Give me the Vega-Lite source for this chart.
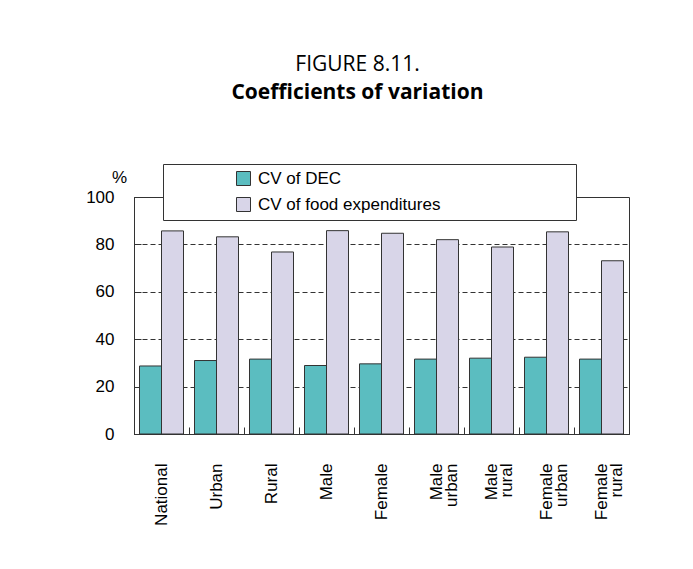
{
  "$schema": "https://vega.github.io/schema/vega-lite/v6.json",
  "width": 495,
  "height": 237,
  "padding": {"left": 85, "top": 53, "right": 5, "bottom": 5},
  "background": "white",
  "title": {
    "text": "FIGURE 8.11.",
    "subtitle": "Coefficients of variation",
    "font": "Open Sans",
    "fontSize": 21,
    "fontWeight": "normal",
    "color": "black",
    "subtitleFont": "Open Sans",
    "subtitleFontSize": 21,
    "subtitleFontWeight": "bold",
    "subtitleColor": "black",
    "subtitlePadding": 7,
    "anchor": "middle",
    "offset": 61,
    "dx": -24
  },
  "data": {
    "values": [
      {"cat": "National", "series": "CV of DEC", "value": 28.7},
      {"cat": "National", "series": "CV of food expenditures", "value": 85.7},
      {"cat": "Urban", "series": "CV of DEC", "value": 31.0},
      {"cat": "Urban", "series": "CV of food expenditures", "value": 83.2},
      {"cat": "Rural", "series": "CV of DEC", "value": 31.6},
      {"cat": "Rural", "series": "CV of food expenditures", "value": 76.8},
      {"cat": "Male", "series": "CV of DEC", "value": 28.9},
      {"cat": "Male", "series": "CV of food expenditures", "value": 85.8},
      {"cat": "Female", "series": "CV of DEC", "value": 29.6},
      {"cat": "Female", "series": "CV of food expenditures", "value": 84.7},
      {"cat": "Male urban", "series": "CV of DEC", "value": 31.6},
      {"cat": "Male urban", "series": "CV of food expenditures", "value": 82.0},
      {"cat": "Male rural", "series": "CV of DEC", "value": 32.0},
      {"cat": "Male rural", "series": "CV of food expenditures", "value": 78.9},
      {"cat": "Female urban", "series": "CV of DEC", "value": 32.4},
      {"cat": "Female urban", "series": "CV of food expenditures", "value": 85.3},
      {"cat": "Female rural", "series": "CV of DEC", "value": 31.6},
      {"cat": "Female rural", "series": "CV of food expenditures", "value": 73.1}
    ]
  },
  "mark": {"type": "bar", "stroke": "#333", "strokeWidth": 1},
  "encoding": {
    "x": {
      "field": "cat",
      "type": "nominal",
      "sort": null,
      "scale": {"paddingInner": 0, "paddingOuter": 0},
      "axis": {
        "title": null,
        "labelAngle": 270,
        "labelAlign": "right",
        "labelBaseline": "middle",
        "labelExpr": "split(datum.label, ' ')",
        "labelLineHeight": 15,
        "labelFont": "Liberation Sans",
        "labelFontSize": 17,
        "labelColor": "black",
        "labelPadding": 36,
        "tickSize": -7,
        "tickBand": "extent",
        "tickColor": "#333",
        "domainColor": "#333",
        "grid": false
      }
    },
    "xOffset": {
      "field": "series",
      "type": "nominal",
      "scale": {"paddingInner": 0, "paddingOuter": 0.25}
    },
    "y": {
      "field": "value",
      "type": "quantitative",
      "scale": {"domain": [0, 100]},
      "axis": {
        "title": "%",
        "titleAngle": 0,
        "titleX": -15,
        "titleY": -20,
        "titleAlign": "center",
        "titleBaseline": "middle",
        "titleFont": "Liberation Sans",
        "titleFontSize": 17,
        "titleFontWeight": "normal",
        "titleColor": "black",
        "values": [0, 20, 40, 60, 80, 100],
        "labelFont": "Liberation Sans",
        "labelFontSize": 17,
        "labelColor": "black",
        "labelPadding": 27,
        "tickSize": -7,
        "tickColor": "#333",
        "domainColor": "#333",
        "grid": true,
        "gridDash": [5, 3],
        "gridColor": "#333",
        "gridOpacity": 1
      }
    },
    "color": {
      "field": "series",
      "type": "nominal",
      "scale": {
        "domain": ["CV of DEC", "CV of food expenditures"],
        "range": ["#5bbdc0", "#d8d5e8"]
      },
      "legend": {
        "orient": "none",
        "legendX": 29,
        "legendY": -33,
        "title": "\u00a0",
        "titleOrient": "right",
        "titleFont": "Liberation Sans",
        "titleFontSize": 17,
        "titlePadding": 130,
        "direction": "vertical",
        "symbolType": "square",
        "symbolSize": 196,
        "symbolStrokeColor": "#333",
        "symbolStrokeWidth": 1,
        "symbolOffset": 66,
        "labelOffset": 6,
        "labelFont": "Liberation Sans",
        "labelFontSize": 17,
        "labelColor": "black",
        "labelLimit": 500,
        "rowPadding": 7,
        "padding": 6,
        "strokeColor": "#333",
        "fillColor": "white"
      }
    }
  },
  "config": {
    "view": {"stroke": "#333", "strokeWidth": 1}
  }
}
